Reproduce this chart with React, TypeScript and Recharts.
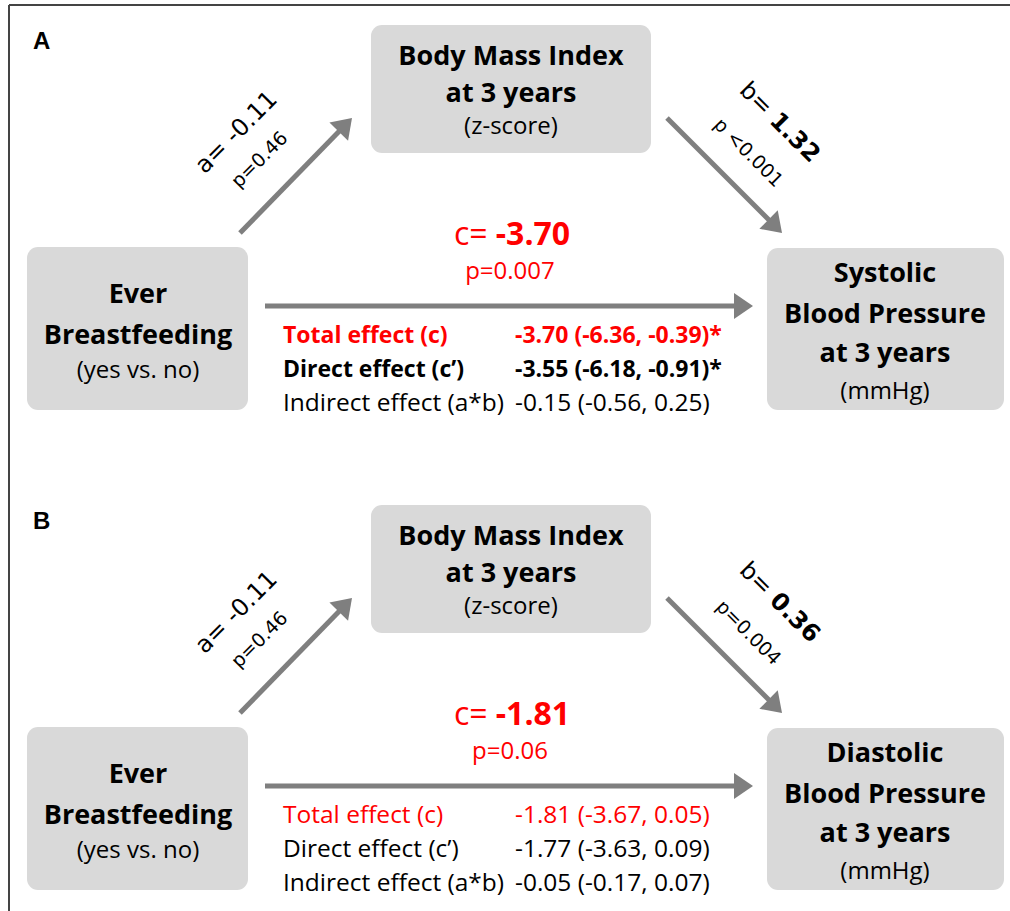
import React from "react";
import {
  ScatterChart,
  Scatter,
  XAxis,
  YAxis,
  ReferenceArea,
  ReferenceLine,
} from "recharts";

document.body.style.margin = "0";

// Values: index 0 = panel A (systolic), index 1 = panel B (diastolic).
const panelLetters = ["A", "B"];
const outcomeNames = ["Systolic", "Diastolic"];
const mediatorLines = ["Body Mass Index", "at 3 years", "(z-score)"];
const exposureLines = ["Ever", "Breastfeeding", "(yes vs. no)"];
const outcomeLines = ["Blood Pressure", "at 3 years", "(mmHg)"];
const aCoef = ["-0.11", "-0.11"];
const aPval = ["p=0.46", "p=0.46"];
const bCoef = ["1.32", "0.36"];
const bPval = ["p <0.001", "p=0.004"];
const cCoef = ["-3.70", "-1.81"];
const cPval = ["p=0.007", "p=0.06"];
const effectNames = ["Total effect (c)", "Direct effect (c’)", "Indirect effect (a*b)"];
const totalEffect = ["-3.70 (-6.36, -0.39)*", "-1.81 (-3.67, 0.05)"];
const directEffect = ["-3.55 (-6.18, -0.91)*", "-1.77 (-3.63, 0.09)"];
const indirectEffect = ["-0.15 (-0.56, 0.25)", "-0.05 (-0.17, 0.07)"];
const significant = [true, false];

// layout (pixel space of the 1010x911 canvas)
const W = 1010;
const H = 911;
const PANEL_DY = 480;
const RED = "#ff0000";
const GREY = "#7f7f7f";
const BOX = "#d9d9d9";
const SANS = "'Open Sans', Lato, sans-serif";
const VERD = "'DejaVu Sans', Verdana, sans-serif";

const boxes = [
  { x1: 27, x2: 248, y1: 247, y2: 410 },
  { x1: 371, x2: 651, y1: 25, y2: 153 },
  { x1: 767, x2: 1004, y1: 248, y2: 410 },
];
const arrows = [
  [240, 233, 352, 118],
  [667, 118, 782, 233],
  [265, 306, 753, 306],
];

type Item = { x: number; y: number; kind: string; text: string; text2?: string; red?: boolean; bold?: boolean };

const items: Item[] = [];
panelLetters.forEach((letter, i) => {
  const dy = i * PANEL_DY;
  items.push({ x: 33, y: 49 + dy, kind: "letter", text: letter });
  [65, 102].forEach((y, k) => items.push({ x: 511, y: y + dy, kind: "title", text: mediatorLines[k] }));
  items.push({ x: 511, y: 134 + dy, kind: "sub", text: mediatorLines[2] });
  [303, 344].forEach((y, k) => items.push({ x: 138, y: y + dy, kind: "title", text: exposureLines[k] }));
  items.push({ x: 138, y: 378 + dy, kind: "sub", text: exposureLines[2] });
  items.push({ x: 885, y: 282 + dy, kind: "title", text: outcomeNames[i] });
  [323, 362].forEach((y, k) => items.push({ x: 885, y: y + dy, kind: "title", text: outcomeLines[k] }));
  items.push({ x: 885, y: 399 + dy, kind: "sub", text: outcomeLines[2] });
  items.push({ x: 236, y: 132 + dy, kind: "aCoef", text: "a= " + aCoef[i] });
  items.push({ x: 259, y: 159 + dy, kind: "aP", text: aPval[i] });
  items.push({ x: 780, y: 122 + dy, kind: "bCoef", text: "b= ", text2: bCoef[i] });
  items.push({ x: 749, y: 152 + dy, kind: "bP", text: bPval[i] });
  items.push({ x: 512, y: 245 + dy, kind: "cCoef", text: "c= ", text2: cCoef[i] });
  items.push({ x: 510, y: 279 + dy, kind: "cP", text: cPval[i] });
  const values = [totalEffect[i], directEffect[i], indirectEffect[i]];
  [343, 377, 411].forEach((y, k) => {
    const bold = significant[i] && k < 2;
    const red = k === 0;
    items.push({ x: 283, y: y + dy, kind: "row", text: effectNames[k], red, bold });
    items.push({ x: 515, y: y + dy, kind: "row", text: values[k], red, bold });
  });
});

function Arrow(p: any) {
  const { x1, y1, x2, y2 } = p;
  const ang = Math.atan2(y2 - y1, x2 - x1);
  const len = 19;
  const half = 13;
  const bx = x2 - len * Math.cos(ang);
  const by = y2 - len * Math.sin(ang);
  const nx = -Math.sin(ang);
  const ny = Math.cos(ang);
  return (
    <g>
      <line x1={x1} y1={y1} x2={bx + Math.cos(ang)} y2={by + Math.sin(ang)} stroke={GREY} strokeWidth={5} />
      <polygon
        points={`${x2},${y2} ${bx + nx * half},${by + ny * half} ${bx - nx * half},${by - ny * half}`}
        fill={GREY}
      />
    </g>
  );
}

function Label(p: any) {
  const { cx, cy, payload } = p;
  const d: Item = payload;
  switch (d.kind) {
    case "letter":
      return (
        <text x={cx} y={cy} fontFamily="Arial, 'Liberation Sans', sans-serif" fontWeight="bold" fontSize={24}>
          {d.text}
        </text>
      );
    case "title":
      return (
        <text x={cx} y={cy} textAnchor="middle" fontFamily={SANS} fontWeight="bold" fontSize={27} fill="#000">
          {d.text}
        </text>
      );
    case "sub":
      return (
        <text x={cx} y={cy} textAnchor="middle" fontFamily={SANS} fontSize={24} fill="#000">
          {d.text}
        </text>
      );
    case "aCoef":
    case "aP":
      return (
        <text
          x={cx}
          y={cy}
          textAnchor="middle"
          dominantBaseline="central"
          fontFamily={VERD}
          fontSize={d.kind === "aCoef" ? 24 : 19}
          transform={`rotate(-45 ${cx} ${cy})`}
        >
          {d.text}
        </text>
      );
    case "bCoef":
      return (
        <text
          x={cx}
          y={cy}
          textAnchor="middle"
          dominantBaseline="central"
          fontFamily={VERD}
          fontSize={24}
          transform={`rotate(45 ${cx} ${cy})`}
        >
          <tspan>{d.text}</tspan>
          <tspan fontWeight="bold">{d.text2}</tspan>
        </text>
      );
    case "bP":
      return (
        <text
          x={cx}
          y={cy}
          textAnchor="middle"
          dominantBaseline="central"
          fontFamily={VERD}
          fontSize={19}
          transform={`rotate(45 ${cx} ${cy})`}
        >
          {d.text}
        </text>
      );
    case "cCoef":
      return (
        <text x={cx} y={cy} textAnchor="middle" fontFamily={SANS} fontSize={32} fill={RED}>
          <tspan>{d.text}</tspan>
          <tspan fontWeight="bold">{d.text2}</tspan>
        </text>
      );
    case "cP":
      return (
        <text x={cx} y={cy} textAnchor="middle" fontFamily={SANS} fontSize={24} fill={RED}>
          {d.text}
        </text>
      );
    default:
      return (
        <text
          x={cx}
          y={cy}
          fontFamily={SANS}
          fontSize={d.bold ? 23 : 24.5}
          fontWeight={d.bold ? "bold" : "normal"}
          fill={d.red ? RED : "#000"}
        >
          {d.text}
        </text>
      );
  }
}

export default function App() {
  return (
    <div style={{ width: W, height: H, background: "#fff" }}>
      <ScatterChart width={W} height={H} margin={{ top: 0, right: 0, bottom: 0, left: 0 }}>
        <XAxis type="number" dataKey="x" domain={[0, W]} hide />
        <YAxis type="number" dataKey="y" domain={[0, H]} reversed hide />
        <ReferenceLine segment={[{ x: 9, y: 5 }, { x: W, y: 5 }]} stroke="#444" strokeWidth={2} />
        <ReferenceLine segment={[{ x: 9, y: 5 }, { x: 9, y: H }]} stroke="#444" strokeWidth={2} />
        {panelLetters.map((_, i) =>
          boxes.map((b, k) => (
            <ReferenceArea
              key={`box-${i}-${k}`}
              x1={b.x1}
              x2={b.x2}
              y1={b.y1 + i * PANEL_DY}
              y2={b.y2 + i * PANEL_DY}
              shape={(p: any) => (
                <rect x={p.x} y={p.y} width={p.width} height={p.height} rx={11} ry={11} fill={BOX} />
              )}
            />
          ))
        )}
        {panelLetters.map((_, i) =>
          arrows.map((a, k) => (
            <ReferenceLine
              key={`arrow-${i}-${k}`}
              segment={[
                { x: a[0], y: a[1] + i * PANEL_DY },
                { x: a[2], y: a[3] + i * PANEL_DY },
              ]}
              shape={Arrow}
            />
          ))
        )}
        <Scatter data={items} shape={Label} isAnimationActive={false} />
      </ScatterChart>
    </div>
  );
}
